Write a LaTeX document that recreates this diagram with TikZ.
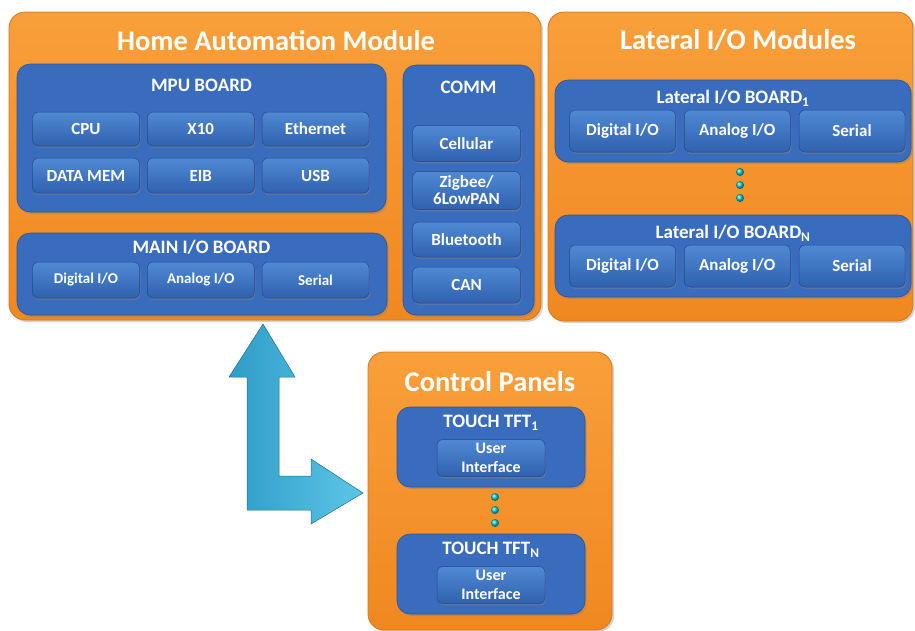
\documentclass[tikz,border=0pt]{standalone}
\usepackage{fontspec}
\setmainfont{Carlito}
\usetikzlibrary{positioning,calc,shadows}
\definecolor{orangetop}{HTML}{F99F3A}
\definecolor{orangebot}{HTML}{F08820}
\definecolor{orangeedge}{HTML}{D9761A}
\definecolor{boardblue}{HTML}{3A6CBE}
\definecolor{boardedge}{HTML}{2A5399}
\definecolor{unittop}{HTML}{5089D3}
\definecolor{unitbot}{HTML}{2F61AF}
\definecolor{unitedge}{HTML}{23498C}
\definecolor{arrowdark}{HTML}{2F9CC8}
\definecolor{arrowlight}{HTML}{5CC6E6}
\tikzset{
  module/.style={draw=orangeedge, line width=0.8pt, rounded corners=16pt,
    top color=orangetop, bottom color=orangebot,
    drop shadow={opacity=0.35, shadow xshift=2pt, shadow yshift=-2pt}},
  board/.style={draw=boardedge, line width=0.6pt, rounded corners=13pt, fill=boardblue,
    drop shadow={opacity=0.4, shadow xshift=1.5pt, shadow yshift=-2pt}},
  unit/.style={draw=unitedge, line width=0.5pt, rounded corners=6pt,
    top color=unittop, bottom color=unitbot, text=white, align=center,
    font=\bfseries\fontsize{17}{17}\selectfont, inner sep=1pt,
    drop shadow={opacity=0.45, shadow xshift=1pt, shadow yshift=-2pt}},
  caption/.style={text=white, font=\bfseries\fontsize{28.5}{30}\selectfont},
  boardtitle/.style={text=white, font=\bfseries\fontsize{19}{20}\selectfont},
  bead/.style={circle, inner sep=0pt, minimum size=8pt, ball color=cyan!60!teal}
}

\begin{document}
\begin{tikzpicture}[x=1pt,y=-1pt]
    \useasboundingbox (0,0) rectangle (915,630);
    \node[module, minimum width=532, minimum height=308] (ham) at (275,166) {};
    \node[module, minimum width=365, minimum height=309] (lat) at (730.5,166.5) {};
    \node[module, minimum width=244, minimum height=278] (cp) at (490,491) {};
    \node[caption] (hamtitle) at (276,41) {Home Automation Module};
    \node[caption] (lattitle) at (738,40) {Lateral I/O Modules};
    \node[caption] (cptitle) at (490,382) {Control Panels};

    \node[board, minimum width=369, minimum height=148] (mpu) at (201.5,138) {};
    \node[board, minimum width=370, minimum height=82] (mainio) at (202,274) {};
    \node[board, minimum width=131, minimum height=250] (comm) at (468.5,190) {};
    \node[boardtitle] at (201.5,85) {MPU BOARD};
    \node[boardtitle] at (201.5,247) {MAIN I/O BOARD};
    \node[boardtitle] at (468.5,87) {COMM};
    \foreach \lbl [count=\i] in {CPU,X10,Ethernet}
        \node[unit, minimum width=107, minimum height=34] (mpuA\i) at ({86+114.75*(\i-1)},129) {\lbl};
    \foreach \lbl [count=\i] in {DATA MEM,EIB,USB}
        \node[unit, minimum width=107, minimum height=35] (mpuB\i) at ({86+114.75*(\i-1)},175.5) {\lbl};
    \foreach \lbl [count=\i] in {{Digital I/O},{Analog I/O},Serial}
        \node[unit, minimum width=107, minimum height=36, font=\bfseries\fontsize{15}{16}\selectfont] (mainio\i) at ({86+114.75*(\i-1)},280) {\lbl};
    \foreach \lbl/\y/\h [count=\i] in {Cellular/143.5/36,{Zigbee/\\6LowPAN}/190.5/38,Bluetooth/239.5/35,CAN/285/36}
        \node[unit, minimum width=108, minimum height=\h] (comm\i) at (466.5,\y) {\lbl};

    \foreach \b/\y in {1/121,N/256}
    {
        \node[board, minimum width=356, minimum height=82] (lat\b) at (733,\y) {};
        \node[boardtitle] at (733,\y-23) {Lateral I/O BOARD\textsubscript{\b}};
        \foreach \lbl [count=\i] in {{Digital I/O},{Analog I/O},Serial}
            \node[unit, minimum width=106, minimum height=42] (lat\b\i) at ({622.5+114.75*(\i-1)},\y+10) {\lbl};
    }
    \foreach \y in {172,185,198}
        \node[bead] at (740,\y) {};

    \foreach \b/\y in {1/447,N/574}
    {
        \node[board, minimum width=188, minimum height=80] (tft\b) at (491,\y) {};
        \node[boardtitle] at (491,\y-24) {TOUCH TFT\textsubscript{\b}};
        \node[unit, minimum width=108, minimum height=37, font=\bfseries\fontsize{16}{19.5}\selectfont] (ui\b) at (491,\y+11) {User\\Interface};
    }
    \foreach \y in {497,510,523}
        \node[bead] at (495,\y) {};

    \coordinate (up) at (263,324);
    \coordinate (right) at (363,493);
    \draw[draw=arrowdark!70!black, line width=0.5pt, left color=arrowdark, right color=arrowlight]
        (up) -- (295,377) -- (279,377) -- (279,476) -- (311,476) -- (311,459) -- (right)
        -- (311,524) -- (311,510) -- (247,510) -- (247,377) -- (229,377) -- cycle;
\end{tikzpicture}
\end{document}
